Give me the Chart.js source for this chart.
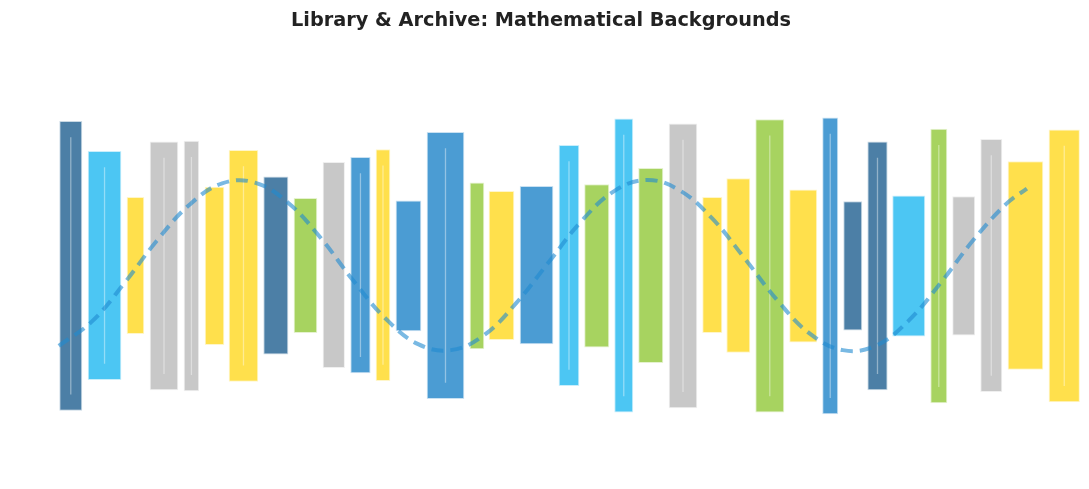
<!DOCTYPE html>
<html>
<head>
<meta charset="utf-8">
<title>Library & Archive: Mathematical Backgrounds</title>
<script src="https://cdn.jsdelivr.net/npm/chart.js@4/dist/chart.umd.min.js"></script>
<style>
  html, body { margin: 0; padding: 0; background: #ffffff; }
  #wrap { width: 1089px; height: 489px; }
</style>
</head>
<body>
<div id="wrap"><canvas id="chart" width="1089" height="489"></canvas></div>
<script>
// bars: centre and width along x, floating span along y
const barCenters = [
  6.50, 9.60, 12.44, 15.06, 17.58, 19.70, 22.36, 25.33, 28.05, 30.65,
  33.10, 35.17, 37.51, 40.91, 43.80, 46.05, 49.27, 52.25, 54.80, 57.28,
  59.76, 62.72, 65.41, 67.80, 70.69, 73.76, 76.24, 78.31, 80.58, 83.45,
  86.21, 88.50, 91.03, 94.17, 97.73,
];
const barWidths = [
  2.11, 3.09, 1.62, 2.63, 1.43, 1.80, 2.72, 2.30, 2.17, 2.05,
  1.86, 1.35, 2.36, 3.46, 1.35, 2.36, 3.09, 1.90, 2.30, 1.74,
  2.30, 2.63, 1.84, 2.20, 2.66, 2.57, 1.47, 1.74, 1.86, 3.03,
  1.56, 2.11, 2.02, 3.28, 2.87,
];
const barLows = [
  -1.70, -1.34, -0.80, -1.46, -1.47, -0.93, -1.36, -1.04, -0.79, -1.20,
  -1.26, -1.35, -0.77, -1.56, -0.98, -0.87, -0.92, -1.41, -0.96, -1.72,
  -1.14, -1.67, -0.79, -1.02, -1.72, -0.90, -1.74, -0.76, -1.46, -0.83,
  -1.61, -0.82, -1.48, -1.22, -1.60,
];
const barHighs = [
  1.69, 1.34, 0.80, 1.45, 1.46, 0.92, 1.35, 1.04, 0.79, 1.21,
  1.27, 1.36, 0.76, 1.56, 0.97, 0.87, 0.93, 1.41, 0.95, 1.72,
  1.14, 1.66, 0.80, 1.02, 1.71, 0.89, 1.73, 0.75, 1.45, 0.82,
  1.60, 0.81, 1.48, 1.22, 1.59,
];
const barGroups = [
  "steel", "sky", "gold", "silver", "silver", "gold", "gold", "steel", "lime", "silver",
  "azure", "gold", "azure", "azure", "lime", "gold", "azure", "sky", "lime", "sky",
  "lime", "silver", "gold", "gold", "lime", "gold", "azure", "steel", "steel", "sky",
  "lime", "silver", "silver", "gold", "gold",
];

// dashed wave
const curveX = [
  5.4, 8.4, 11.4, 14.4, 17.4, 20.4, 23.4, 26.4, 29.4, 32.4,
  35.4, 38.4, 41.4, 44.4, 47.4, 50.4, 53.4, 56.4, 59.4, 62.4,
  65.4, 68.4, 71.4, 74.4, 77.4, 80.4, 83.4, 86.4, 89.4, 92.4, 94.3,
];
const curveY = [
  -0.94, -0.66, -0.21, 0.29, 0.71, 0.96, 0.97, 0.74, 0.33, -0.17,
  -0.62, -0.92, -0.99, -0.82, -0.44, 0.04, 0.52, 0.87, 1.00, 0.88,
  0.55, 0.08, -0.41, -0.80, -0.99, -0.94, -0.65, -0.20, 0.30, 0.72, 0.90,
];

const groupColors = {
  steel: "#4c7fa6",
  sky: "#4cc6f3",
  gold: "#ffe04c",
  silver: "#c8c8c8",
  lime: "#a7d360",
  azure: "#4b9cd3",
};

const STRIPE_MIN_SPAN = 2.5;
const STRIPE_INSET = 0.19;

// pale edge: bar colour washed toward white
function tint(hex, amount) {
  const n = parseInt(hex.slice(1), 16);
  const mix = (c) => Math.round(c + (255 - c) * amount);
  return `rgb(${mix(n >> 16)}, ${mix((n >> 8) & 255)}, ${mix(n & 255)})`;
}

const barData = barCenters.map((x, i) => ({ x, y: [barLows[i], barHighs[i]] }));
const stripeData = barCenters
  .map((x, i) => ({ x, lo: barLows[i], hi: barHighs[i] }))
  .filter((b) => b.hi - b.lo > STRIPE_MIN_SPAN)
  .map((b) => ({ x: b.x, y: [b.lo + STRIPE_INSET, b.hi - STRIPE_INSET] }));
const curveData = curveX.map((x, i) => ({ x, y: curveY[i] }));

// each bar gets its own width in x units
const barWidthPlugin = {
  id: "barWidths",
  afterDatasetUpdate(chart, args) {
    if (args.index !== 0) return;
    const xs = chart.scales.x;
    args.meta.data.forEach((bar, i) => {
      const left = xs.getPixelForValue(barCenters[i] - barWidths[i] / 2);
      const right = xs.getPixelForValue(barCenters[i] + barWidths[i] / 2);
      bar.x = (left + right) / 2;
      bar.width = right - left;
    });
  },
};

new Chart(document.getElementById("chart"), {
  type: "bar",
  data: {
    datasets: [
      {
        data: barData,
        backgroundColor: barGroups.map((g) => groupColors[g]),
        borderColor: barGroups.map((g) => tint(groupColors[g], 0.7)),
        borderWidth: 1,
        borderSkipped: false,
        grouped: false,
        order: 3,
      },
      {
        data: stripeData,
        backgroundColor: "rgba(255, 255, 255, 0.4)",
        borderWidth: 0,
        maxBarThickness: 1.3,
        grouped: false,
        order: 2,
      },
      {
        type: "line",
        data: curveData,
        borderColor: "rgba(31, 138, 208, 0.6)",
        borderWidth: 4,
        borderDash: [12, 7],
        pointRadius: 0,
        tension: 0.4,
        fill: false,
        order: 1,
      },
    ],
  },
  options: {
    responsive: false,
    animation: false,
    events: [],
    layout: { padding: { left: 0, right: 7, top: 0, bottom: 0 } },
    plugins: {
      legend: { display: false },
      tooltip: { enabled: false },
      title: {
        display: true,
        text: "Library & Archive: Mathematical Backgrounds",
        color: "#222222",
        font: { family: "DejaVu Sans", size: 19.3, weight: "bold" },
        padding: { top: 9, bottom: 6.4 },
      },
    },
    scales: {
      x: { type: "linear", min: 0, max: 99.36, offset: false, display: false },
      y: { min: -2.614, max: 2.654, display: false },
    },
  },
  plugins: [barWidthPlugin],
});
</script>
</body>
</html>
